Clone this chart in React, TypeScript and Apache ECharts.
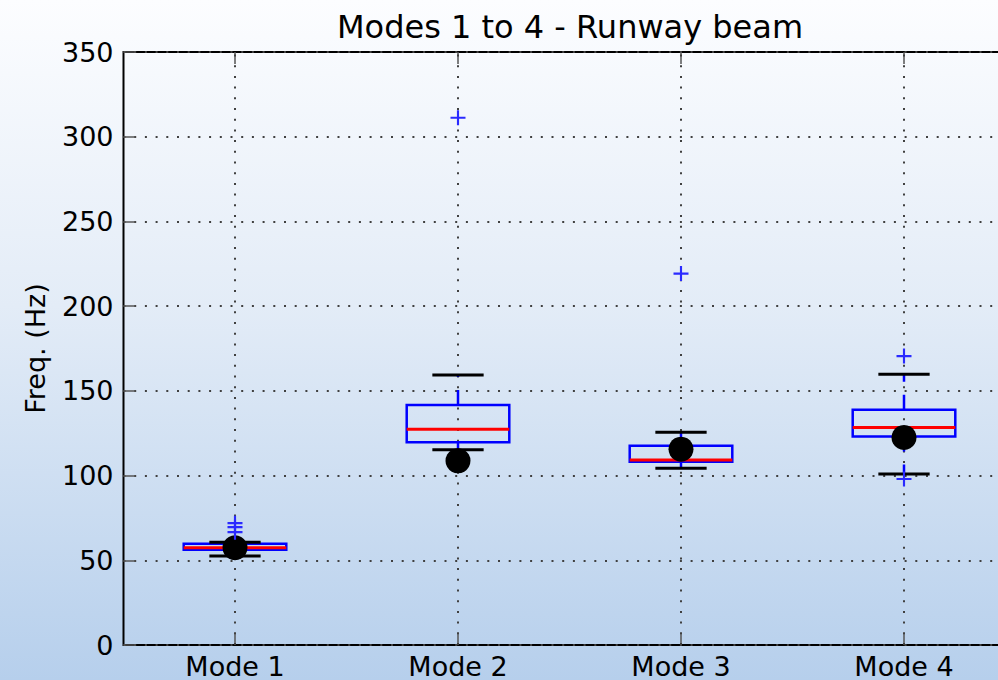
import React, { useEffect, useRef } from "react";
import * as echarts from "echarts";

const categories = ["Mode 1", "Mode 2", "Mode 3", "Mode 4"];
const whiskerLow = [52.5, 115.2, 104.3, 100.9];
const boxQ1 = [56.2, 119.6, 108.2, 123.1];
const boxMedian = [57.4, 127.4, 109.2, 128.4];
const boxQ3 = [59.7, 141.7, 117.6, 138.8];
const whiskerHigh = [60.7, 159.3, 125.5, 159.8];
const measured = [57.4, 108.7, 115.6, 122.5];
const outlierCategory = [0, 0, 0, 1, 2, 3, 3];
const outlierValue = [71.9, 69.6, 66.6, 311.2, 219.2, 170.5, 98.0];
const yMin = 0;
const yMax = 350;
const yInterval = 50;

const FONT = "DejaVu Sans";
const DOTS = [2, 8.7];

export default function App() {
  const ref = useRef<HTMLDivElement>(null);
  useEffect(() => {
    if (!ref.current) return;
    const chart = echarts.init(ref.current, null, { renderer: "svg" });
    const boxData = categories.map((_, i) => [
      i,
      whiskerLow[i],
      boxQ1[i],
      boxMedian[i],
      boxQ3[i],
      whiskerHigh[i],
    ]);
    const option: any = {
      animation: false,
      backgroundColor: "transparent",
      textStyle: { fontFamily: FONT },
      graphic: [
        {
          type: "text",
          x: 570,
          y: 27,
          style: {
            text: "Modes 1 to 4 - Runway beam",
            font: `32px "${FONT}"`,
            fill: "#000",
            textAlign: "center",
            textVerticalAlign: "middle",
          },
        },
      ],
      grid: {
        left: 123.5,
        right: 0.5,
        top: 52,
        bottom: 33.5,
        show: true,
        borderColor: "#000",
        borderWidth: 2,
        backgroundColor: "transparent",
      },
      xAxis: [
        {
          type: "category",
          data: categories,
          position: "bottom",
          axisLine: { show: false },
          axisTick: {
            show: true,
            inside: true,
            alignWithLabel: true,
            length: 12,
            lineStyle: { color: "#555", width: 1.5 },
          },
          axisLabel: {
            color: "#000",
            fontSize: 27,
            fontFamily: FONT,
            margin: 8,
          },
          splitLine: { show: false },
        },
        {
          type: "category",
          data: categories,
          position: "top",
          axisLine: { show: false },
          axisTick: {
            show: true,
            inside: true,
            alignWithLabel: true,
            length: 12,
            lineStyle: { color: "#555", width: 1.5 },
          },
          axisLabel: { show: false },
          splitLine: { show: false },
        },
      ],
      yAxis: {
        type: "value",
        min: yMin,
        max: yMax,
        interval: yInterval,
        name: "Freq. (Hz)",
        nameLocation: "middle",
        nameRotate: 90,
        nameGap: 75,
        nameTextStyle: { color: "#000", fontSize: 27, fontFamily: FONT },
        axisLine: { show: false },
        axisTick: {
          show: true,
          inside: true,
          length: 12,
          lineStyle: { color: "#555", width: 1.5 },
        },
        axisLabel: {
          color: "#000",
          fontSize: 27,
          fontFamily: FONT,
          margin: 10,
        },
        splitLine: {
          show: true,
          lineStyle: { color: "#404040", width: 2, type: DOTS },
        },
      },
      series: [
        {
          type: "scatter",
          name: "measured",
          xAxisIndex: 0,
          data: measured.map((v, i) => [i, v]),
          symbol: "circle",
          symbolSize: 25,
          itemStyle: { color: "#000", opacity: 1 },
          silent: true,
          markLine: {
            z: 1,
            silent: true,
            symbol: "none",
            label: { show: false },
            lineStyle: { color: "#404040", width: 2, type: DOTS },
            data: categories.map((c) => ({ xAxis: c })),
          },
        },
        {
          type: "custom",
          name: "box",
          xAxisIndex: 0,
          data: boxData,
          encode: { x: 0, y: [1, 2, 3, 4, 5] },
          renderItem: (params: any, api: any) => {
            const i = api.value(0);
            const band = api.size([1, 0])[0];
            const bw = band * 0.46;
            const cw = band * 0.23;
            const pLo = api.coord([i, api.value(1)]);
            const pQ1 = api.coord([i, api.value(2)]);
            const pMed = api.coord([i, api.value(3)]);
            const pQ3 = api.coord([i, api.value(4)]);
            const pHi = api.coord([i, api.value(5)]);
            const cx = pQ1[0];
            return {
              type: "group",
              children: [
                {
                  type: "line",
                  shape: { x1: cx, y1: pQ3[1], x2: cx, y2: pHi[1] },
                  style: { stroke: "#0000ff", lineWidth: 2.5, lineDash: [15, 13] },
                },
                {
                  type: "line",
                  shape: { x1: cx, y1: pQ1[1], x2: cx, y2: pLo[1] },
                  style: { stroke: "#0000ff", lineWidth: 2.5, lineDash: [15, 13] },
                },
                {
                  type: "rect",
                  shape: {
                    x: cx - bw / 2,
                    y: pQ3[1],
                    width: bw,
                    height: pQ1[1] - pQ3[1],
                  },
                  style: { fill: "none", stroke: "#0000ff", lineWidth: 2.5 },
                },
                {
                  type: "line",
                  shape: { x1: cx - bw / 2, y1: pMed[1], x2: cx + bw / 2, y2: pMed[1] },
                  style: { stroke: "#ff0000", lineWidth: 3 },
                },
                {
                  type: "line",
                  shape: { x1: cx - cw / 2, y1: pHi[1], x2: cx + cw / 2, y2: pHi[1] },
                  style: { stroke: "#000", lineWidth: 3 },
                },
                {
                  type: "line",
                  shape: { x1: cx - cw / 2, y1: pLo[1], x2: cx + cw / 2, y2: pLo[1] },
                  style: { stroke: "#000", lineWidth: 3 },
                },
              ],
            };
          },
        },
        {
          type: "scatter",
          name: "outliers",
          xAxisIndex: 0,
          data: outlierValue.map((v, k) => [outlierCategory[k], v]),
          symbol: "path://M-1,-7H1V-1H7V1H1V7H-1V1H-7V-1H-1Z",
          symbolSize: 15,
          itemStyle: { color: "#2a2aff", opacity: 1 },
          silent: true,
        },
      ],
    };
    chart.setOption(option);
    return () => chart.dispose();
  }, []);
  return (
    <div
      ref={ref}
      style={{
        position: "fixed",
        left: 0,
        top: 0,
        width: 1016,
        height: 680,
        background:
          "linear-gradient(to bottom, #fcfdff 0%, #e3ecf7 45%, #b6cfec 100%)",
      }}
    />
  );
}
